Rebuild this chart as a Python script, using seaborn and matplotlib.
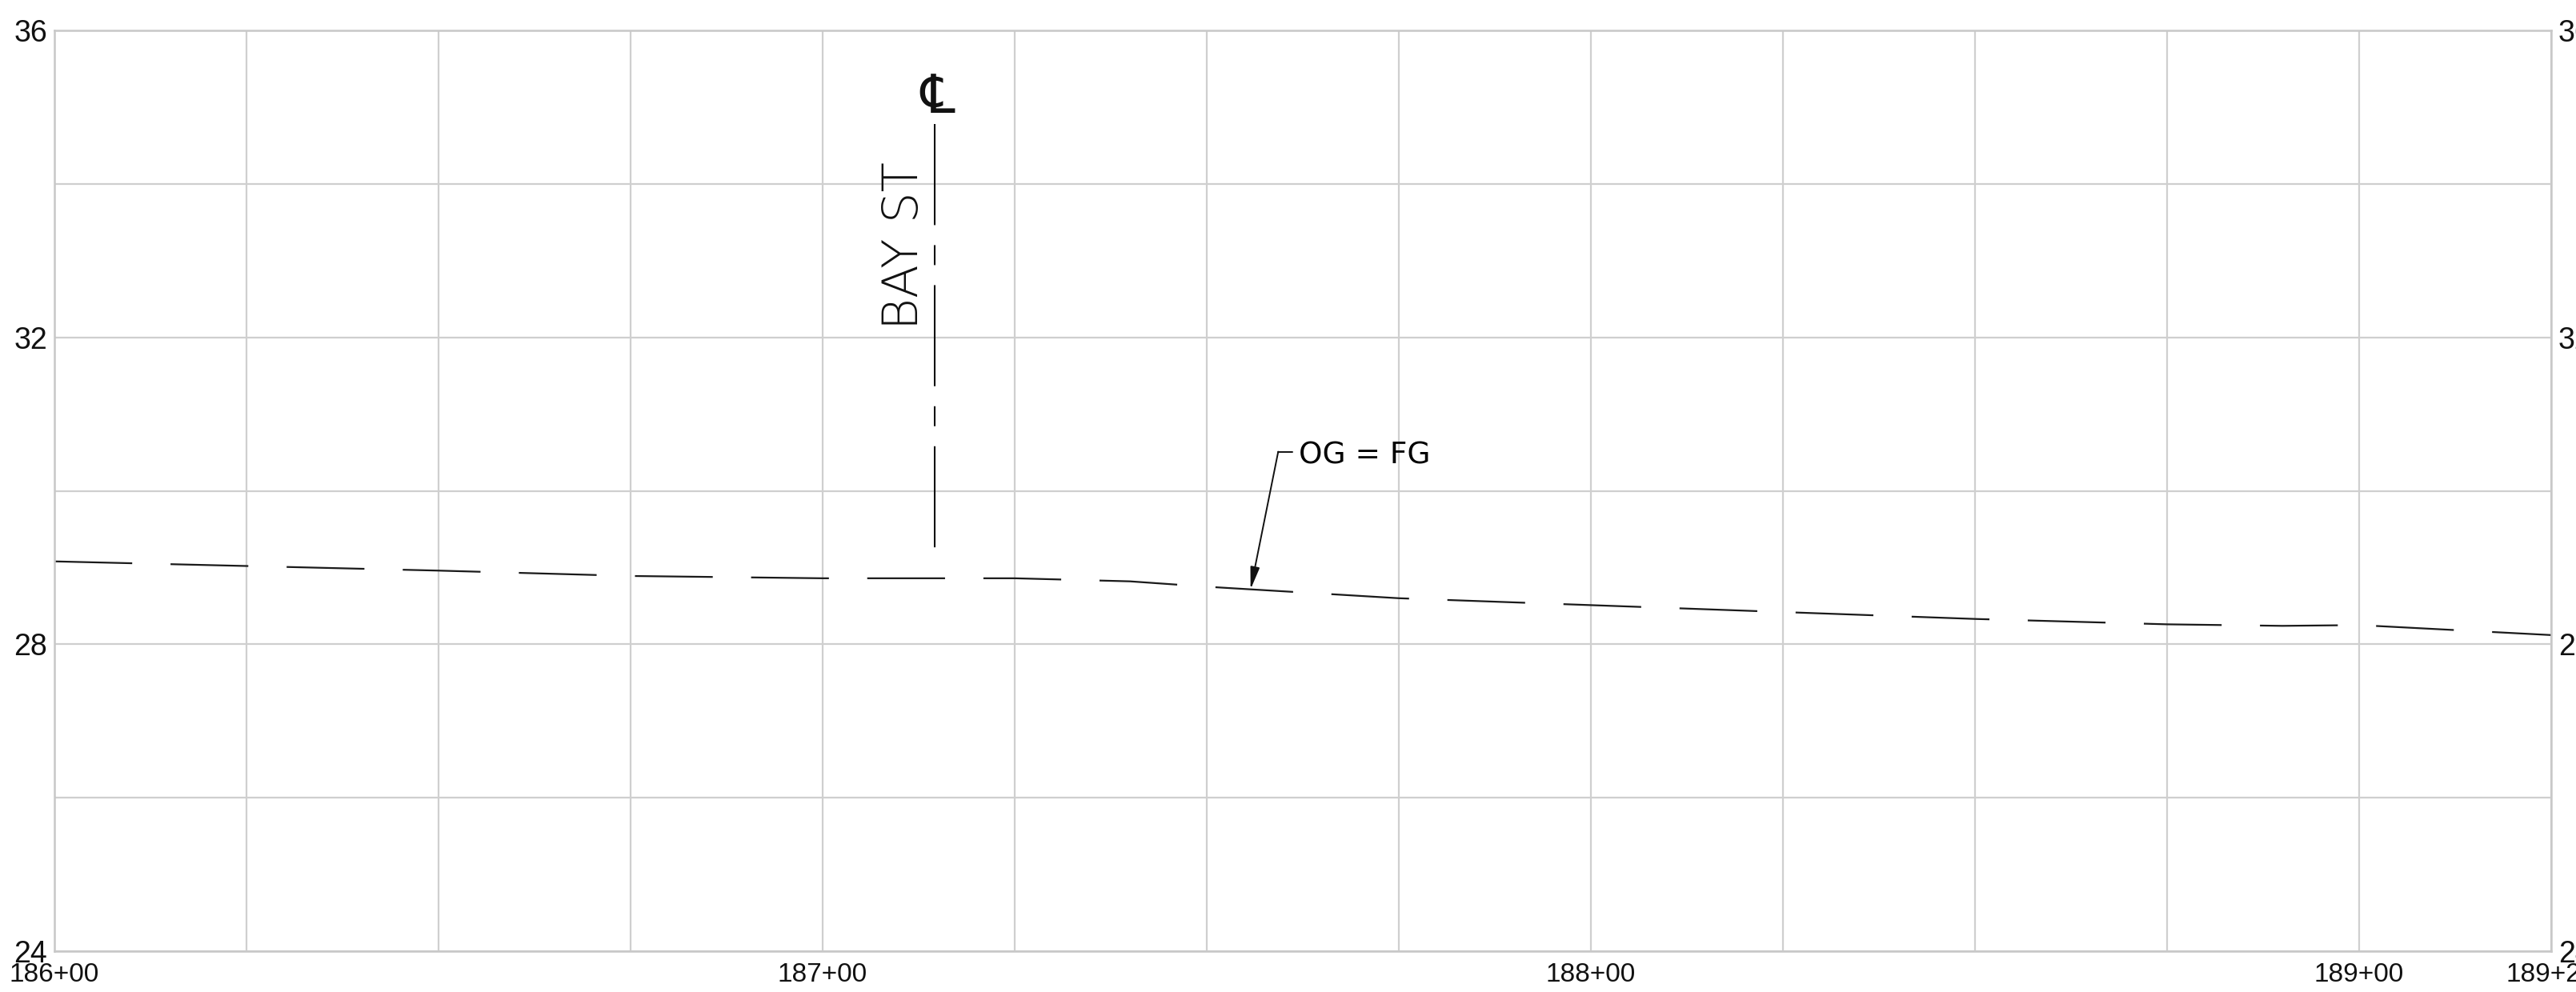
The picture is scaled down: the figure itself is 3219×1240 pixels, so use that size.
import numpy as np
import pandas as pd
import seaborn as sns
import matplotlib.pyplot as plt
from matplotlib import font_manager, ft2font
from matplotlib.ticker import FixedLocator, FixedFormatter

# Profile data (station in ft, elevation in ft)
stations = [18600, 18625, 18650, 18675, 18700, 18725, 18740, 18750, 18775,
            18800, 18825, 18850, 18875, 18890, 18900, 18925]
elevations = [29.08, 29.02, 28.96, 28.89, 28.86, 28.86, 28.82, 28.75, 28.60,
              28.51, 28.42, 28.33, 28.26, 28.24, 28.25, 28.12]

# Axis ticks
xtick_pos = [18600, 18700, 18800, 18900, 18925]
xtick_labels = ["186+00", "187+00", "188+00", "189+00", "189+25"]
xgrid_pos = list(range(18600, 18926, 25))
ytick_pos = [24, 28, 32, 36]
ytick_labels = ["24", "28", "32", "36"]
ygrid_minor = [26, 30, 34]

# Bay St centerline crossing
bay_st_sta = 18714.6
bay_st_elev = [34.78, 29.22]

# OG = FG callout
callout_tip_sta = 18755.7
callout_corner = (18759.3, 30.51)
callout_tick_end = 18761.1
callout_text_pos = (18762.0, 30.35)

CL_SYMBOL = "\u2104"


def weight_num(w):
    if isinstance(w, (int, float)):
        return w
    return font_manager.weight_dict.get(str(w).lower(), 400)


def font_with(ch):
    # look for an installed, upright, regular-ish font file that has the glyph
    preferred = ["DejaVu Sans", "Noto Sans", "Liberation Sans", "Lato", "Roboto",
                 "Open Sans", "Inter", "Noto Sans CJK JP", "Noto Sans CJK SC"]
    entries = sorted(font_manager.fontManager.ttflist,
                     key=lambda f: (f.style != "normal",
                                    preferred.index(f.name) if f.name in preferred else 99,
                                    abs(weight_num(f.weight) - 400)))
    for f in entries:
        try:
            if ord(ch) in ft2font.FT2Font(f.fname).get_charmap():
                return f
        except Exception:
            continue
    return None


sns.set_theme(style="whitegrid")
plt.rcParams['lines.scale_dashes'] = False
plt.rcParams['font.family'] = ['Liberation Sans', 'DejaVu Sans']

fig = plt.figure(figsize=(32.19, 12.40), dpi=100)
ax = fig.add_axes([68 / 3219, 51 / 1240, 3120 / 3219, 1151 / 1240])

df = pd.DataFrame({"station": stations, "elev": elevations})
sns.lineplot(data=df, x="station", y="elev", ax=ax, color="#1a1a1a", lw=1.6,
             estimator=None)
ax.lines[-1].set_dashes((70, 34.5))

cl = pd.DataFrame({"station": [bay_st_sta, bay_st_sta], "elev": bay_st_elev})
sns.lineplot(data=cl, x="station", y="elev", ax=ax, color="#111111", lw=1.5,
             sort=False, estimator=None)
ax.lines[-1].set_dashes((91, 18, 18, 18))

# labels for the centerline
ax.text(18712.4, 32.10, "BAY ST", rotation=90, rotation_mode="anchor",
        ha="left", va="baseline", fontsize=44, color="#111111",
        family=["DejaVu Sans"], fontweight="light")
cl_font = font_with(CL_SYMBOL)
if cl_font is not None:
    ax.text(bay_st_sta + 0.4, 34.93, CL_SYMBOL, ha="center", va="baseline",
            color="#111111",
            fontproperties=font_manager.FontProperties(fname=cl_font.fname, size=48))
else:
    # no installed font has the centre line sign: overlay C and L
    ax.text(bay_st_sta - 0.1, 35.06, "C", ha="center", va="baseline", fontsize=38,
            color="#111111", family=["DejaVu Sans"], fontweight="light")
    ax.text(bay_st_sta - 0.2, 34.92, "L", ha="left", va="baseline", fontsize=26,
            color="#111111", family=["DejaVu Sans"], fontweight="light")

# OG = FG callout
tip_elev = np.interp(callout_tip_sta, stations, elevations)
ax.annotate("", xy=(callout_tip_sta, tip_elev), xytext=callout_corner,
            arrowprops=dict(arrowstyle="-|>,head_length=1.2,head_width=0.25",
                            color="#111111", lw=1.4, shrinkA=0, shrinkB=0,
                            mutation_scale=14))
ax.plot([callout_corner[0], callout_tick_end], [callout_corner[1], callout_corner[1]],
        color="#111111", lw=1.4)
ax.text(*callout_text_pos, "OG = FG", ha="left", va="baseline", fontsize=27,
        color="#000000", family=["DejaVu Sans"])

ax.set_xlim(18600, 18925)
ax.set_ylim(24, 36)
ax.xaxis.set_major_locator(FixedLocator(xtick_pos))
ax.xaxis.set_major_formatter(FixedFormatter(xtick_labels))
ax.xaxis.set_minor_locator(FixedLocator(xgrid_pos))
ax.yaxis.set_major_locator(FixedLocator(ytick_pos))
ax.yaxis.set_major_formatter(FixedFormatter(ytick_labels))
ax.yaxis.set_minor_locator(FixedLocator(ygrid_minor))

ax.grid(True, which="both", color="#cfcfcf", lw=1.6)
ax.set_facecolor("white")
for sp in ax.spines.values():
    sp.set_color("#c8c8c8")
    sp.set_linewidth(1.8)

ax.tick_params(axis="x", which="major", length=0, pad=10, labelsize=24, colors="#111111")
ax.tick_params(axis="y", which="major", length=0, pad=6.5, labelsize=27,
               colors="#111111", labelright=True)
ax.tick_params(which="minor", length=0)
ax.set_xlabel("")
ax.set_ylabel("")

fig.savefig("out.png", dpi=100, facecolor="white")
